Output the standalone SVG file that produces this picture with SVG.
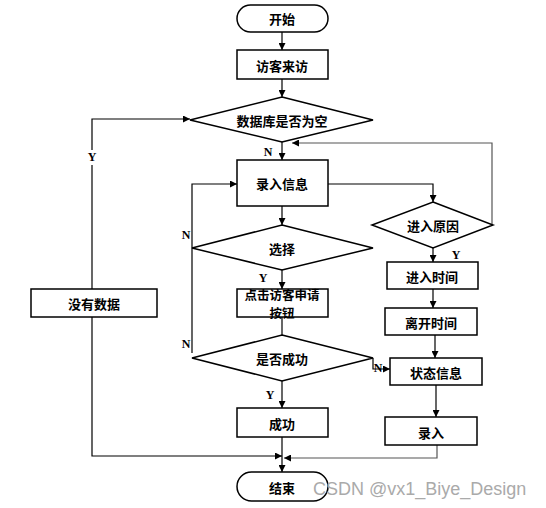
<svg xmlns="http://www.w3.org/2000/svg" width="546" height="508" viewBox="0 0 546 508">
<style>
.box{fill:#fff;stroke:#000;stroke-width:1.5}
.t{font-family:"Noto Sans CJK SC","Liberation Sans",sans-serif;font-weight:bold;font-size:13px;text-anchor:middle;dominant-baseline:central;fill:#000}
.l{font-family:"Liberation Serif",serif;font-weight:bold;font-size:12px;text-anchor:middle;dominant-baseline:central;fill:#000}
.c{fill:none;stroke:#000;stroke-width:1.2}
.g{fill:none;stroke:#555;stroke-width:1.2}
</style>
<defs>
<marker id="a" viewBox="0 0 10 10" refX="10" refY="5" markerWidth="7" markerHeight="7" orient="auto" markerUnits="userSpaceOnUse"><path d="M0,0L10,5L0,10z" fill="#000"/></marker>
</defs>
<rect width="546" height="508" fill="#fff"/>
<g id="connectors">
<line class="c" x1="282" y1="32" x2="282" y2="50" marker-end="url(#a)"/>
<line class="c" x1="282" y1="79" x2="282" y2="97" marker-end="url(#a)"/>
<line class="c" x1="282" y1="142" x2="282" y2="160" marker-end="url(#a)"/>
<polyline class="c" points="92,150 92,119 190,119" marker-end="url(#a)"/>
<line class="c" x1="92" y1="165" x2="92" y2="289"/>
<polyline class="c" points="92,317 92,456 282,456" marker-end="url(#a)"/>
<polyline class="g" points="437,445 437,458 284,458" marker-end="url(#a)"/>
<line class="c" x1="282" y1="437" x2="282" y2="472" marker-end="url(#a)"/>
<polyline class="c" points="192,353 192,184 237,184" marker-end="url(#a)"/>
<line class="c" x1="282" y1="206" x2="282" y2="225" marker-end="url(#a)"/>
<line class="c" x1="282" y1="270" x2="282" y2="289" marker-end="url(#a)"/>
<line class="c" x1="282" y1="317" x2="282" y2="335"/>
<line class="c" x1="282" y1="381" x2="282" y2="408" marker-end="url(#a)"/>
<polyline class="c" points="328,184 433,184 433,202" marker-end="url(#a)"/>
<polyline class="g" points="492,225 492,143 292,143" marker-end="url(#a)"/>
<line class="c" x1="433" y1="248" x2="433" y2="262" marker-end="url(#a)"/>
<line class="c" x1="433" y1="289" x2="433" y2="308" marker-end="url(#a)"/>
<line class="c" x1="435" y1="335" x2="435" y2="358" marker-end="url(#a)"/>
<line class="c" x1="436" y1="385" x2="436" y2="417" marker-end="url(#a)"/>
<polyline class="c" points="373,358 373,369 390,369" marker-end="url(#a)"/>
</g>
<g id="start"><rect class="box" x="237" y="5" width="91" height="27" rx="13.5"/><text class="t" x="282" y="18">开始</text></g>
<g id="visit"><rect class="box" x="237" y="50" width="91" height="29"/><text class="t" x="282" y="65">访客来访</text></g>
<g id="dbempty"><polygon class="box" points="282,97 373,120 282,142 190,120"/><text class="t" x="282" y="120">数据库是否为空</text></g>
<g id="nodata"><rect class="box" x="31" y="289" width="126" height="28"/><text class="t" x="94" y="303">没有数据</text></g>
<g id="input"><rect class="box" x="237" y="160" width="91" height="46"/><text class="t" x="282" y="183">录入信息</text></g>
<g id="choose"><polygon class="box" points="282,225 373,248 282,270 192,248"/><text class="t" x="282" y="248">选择</text></g>
<g id="click"><rect class="box" x="237" y="289" width="91" height="28"/><text class="t" x="282" y="294" style="font-size:12.5px">点击访客申请</text><text class="t" x="282" y="312" style="font-size:12.5px">按钮</text></g>
<g id="success-q"><polygon class="box" points="282,335 373,358 282,381 192,358"/><text class="t" x="282" y="358">是否成功</text></g>
<g id="success"><rect class="box" x="237" y="408" width="91" height="29"/><text class="t" x="282" y="423">成功</text></g>
<g id="end"><rect class="box" x="237" y="472" width="91" height="29" rx="14.5"/><text class="t" x="282" y="487">结束</text></g>
<g id="reason"><polygon class="box" points="433,202 493,225 433,248 372,225"/><text class="t" x="433" y="225">进入原因</text></g>
<g id="intime"><rect class="box" x="387" y="262" width="91" height="27"/><text class="t" x="432" y="276">进入时间</text></g>
<g id="outtime"><rect class="box" x="385" y="308" width="92" height="27"/><text class="t" x="431" y="322">离开时间</text></g>
<g id="status"><rect class="box" x="390" y="358" width="92" height="27"/><text class="t" x="436" y="372">状态信息</text></g>
<g id="record"><rect class="box" x="385" y="417" width="92" height="28"/><text class="t" x="431" y="432">录入</text></g>
<g id="labels">
<text class="l" x="92" y="157">Y</text>
<text class="l" x="268" y="152">N</text>
<text class="l" x="186" y="235">N</text>
<text class="l" x="263" y="278">Y</text>
<text class="l" x="186" y="344">N</text>
<text class="l" x="270" y="395">Y</text>
<text class="l" x="456" y="255">Y</text>
<text class="l" x="378" y="368">N</text>
</g>
<text x="313" y="495" font-family="Liberation Sans,sans-serif" font-size="18" fill="#aaa">CSDN @vx1_Biye_Design</text>
</svg>
